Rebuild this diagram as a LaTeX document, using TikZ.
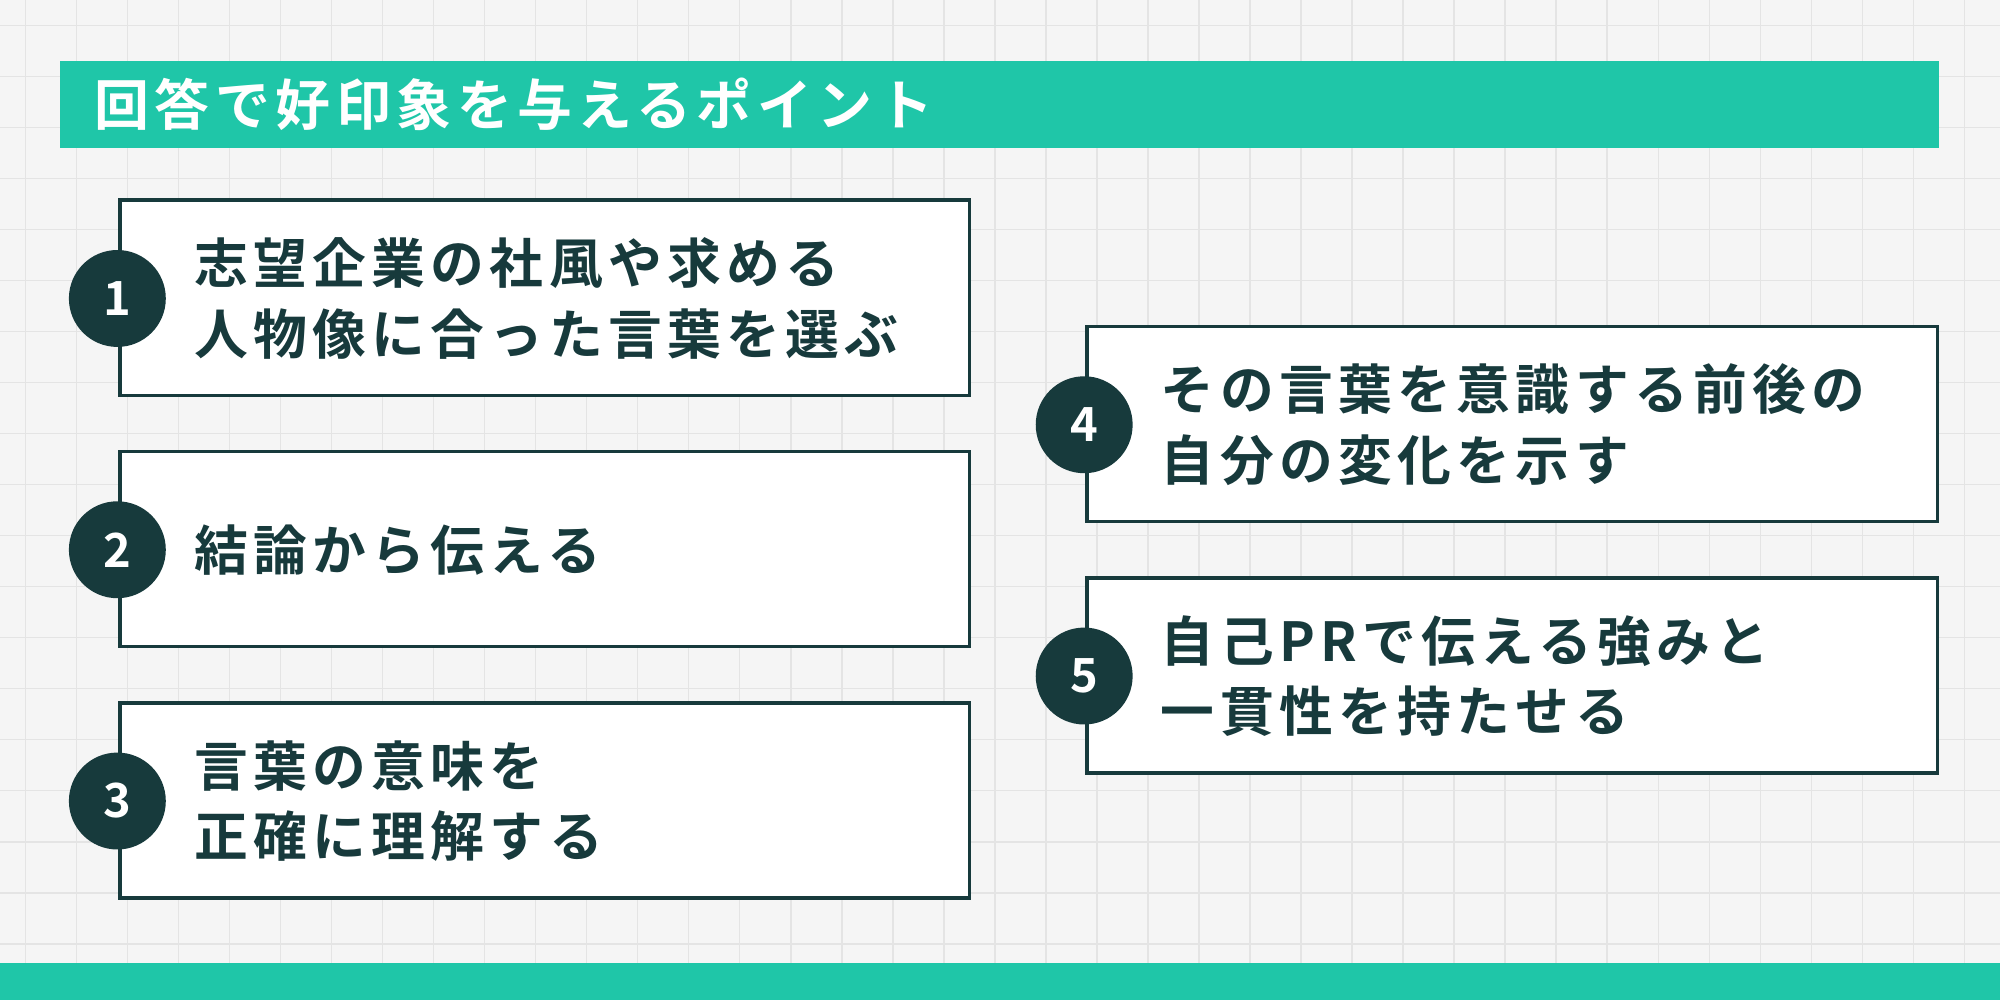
\documentclass[tikz,border=0pt]{standalone}
\usepackage{fontspec}
\newfontfamily\jp[LetterSpace=10]{Noto Sans CJK JP Bold}
\newfontfamily\jpn{Noto Sans CJK JP Bold}
\definecolor{teal1}{HTML}{1FC6A8}
\definecolor{dark}{HTML}{173A3C}
\definecolor{bg}{HTML}{F5F5F5}
\definecolor{gridc}{HTML}{E4E4E4}
\begin{document}
\begin{tikzpicture}[x=0.02cm,y=-0.02cm,
  card/.style={draw=dark,line width=1.6pt,fill=white},
  num/.style={circle,fill=dark,minimum size=1.52cm,inner sep=0pt,text=white,font=\jpn\fontsize{21}{21}\selectfont},
  txt/.style={anchor=west,align=left,text=dark,font=\jp\fontsize{24}{31.5}\selectfont}]
\useasboundingbox (0,0) rectangle (1568,784);
\fill[bg] (0,0) rectangle (1568,784);
\foreach \x in {20,60,...,1560} \draw[gridc,line width=0.6pt] (\x,0) -- (\x,784);
\foreach \y in {20,60,...,780} \draw[gridc,line width=0.6pt] (0,\y) -- (1568,\y);
\fill[teal1] (47,48) rectangle (1520,116);
\node[anchor=west,text=white,font=\jp\fontsize{24.5}{24.5}\selectfont] (title) at (68,82) {回答で好印象を与えるポイント};
\fill[teal1] (0,755) rectangle (1568,784);
\draw[card] (94,157) rectangle (760,310);
\draw[card] (94,354) rectangle (760,507);
\draw[card] (94,551) rectangle (760,704);
\draw[card] (852,256) rectangle (1519,409);
\draw[card] (852,453) rectangle (1519,606);
\node[num] (n1) at (92,234) {1};
\node[num] (n2) at (92,431) {2};
\node[num] (n3) at (92,628) {3};
\node[num] (n4) at (850,333) {4};
\node[num] (n5) at (850,530) {5};
\node[txt] (t1) at (146,234) {志望企業の社風や求める\\人物像に合った言葉を選ぶ};
\node[txt] (t2) at (146,431) {結論から伝える};
\node[txt] (t3) at (146,628) {言葉の意味を\\正確に理解する};
\node[txt] (t4) at (904,333) {その言葉を意識する前後の\\自分の変化を示す};
\node[txt] (t5) at (904,530) {自己PRで伝える強みと\\一貫性を持たせる};
\end{tikzpicture}
\end{document}
